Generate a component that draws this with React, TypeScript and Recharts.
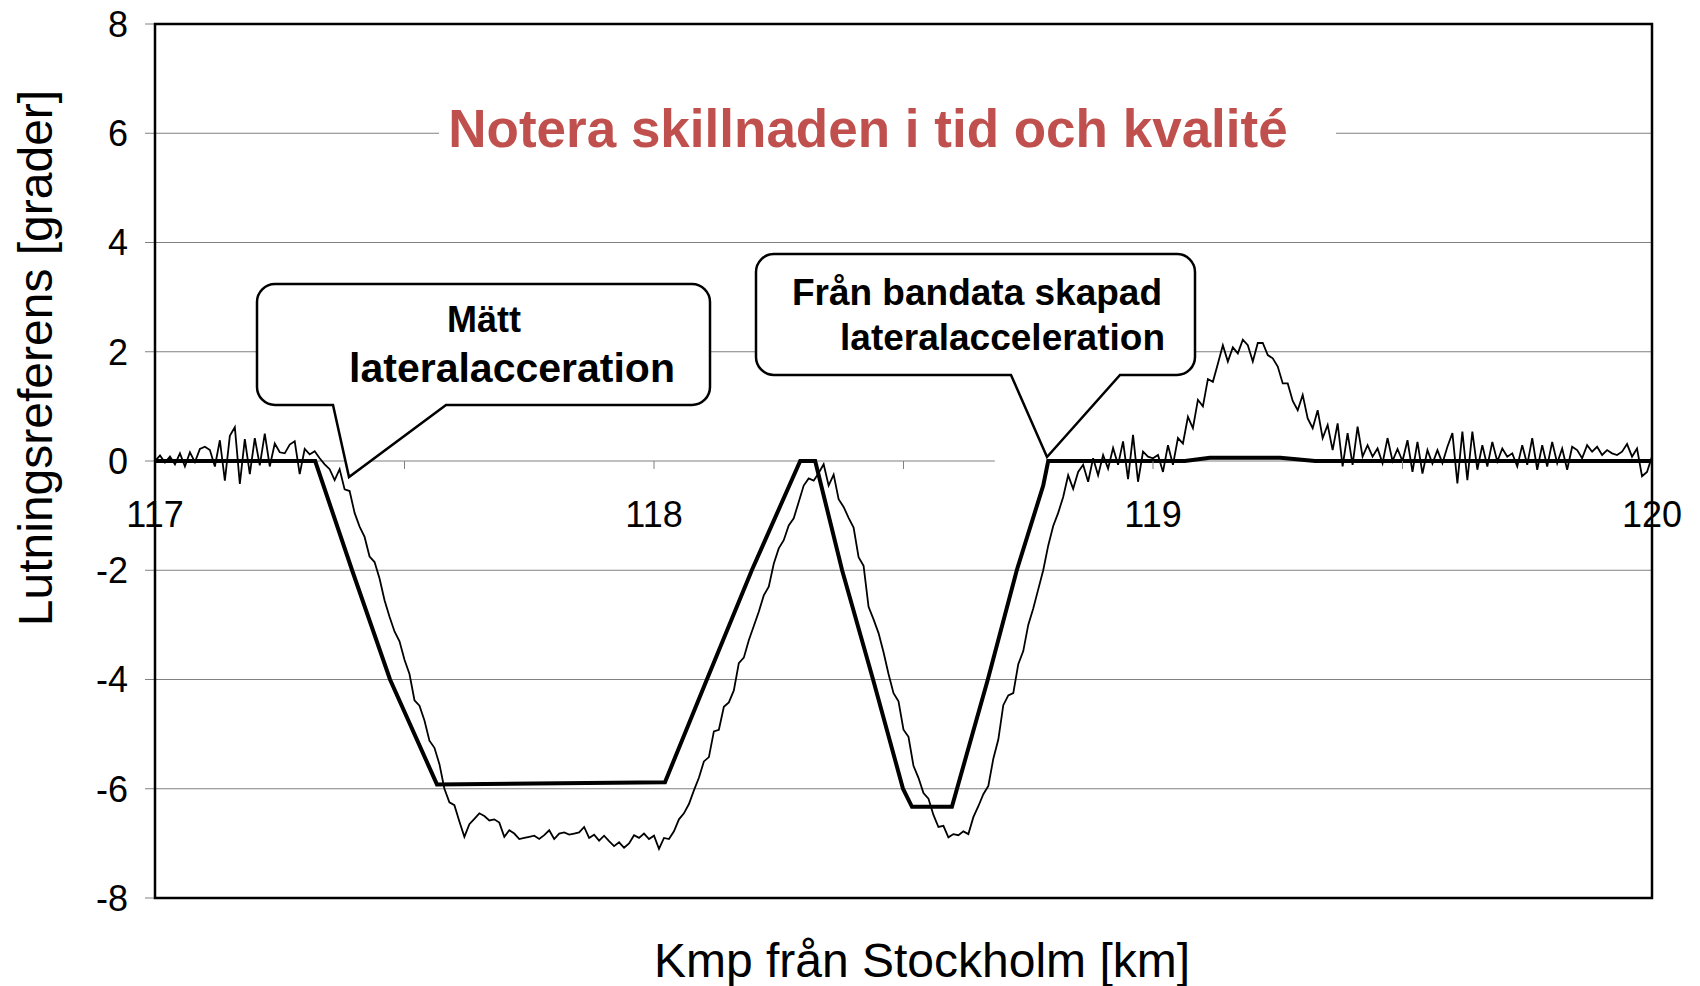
import React from "react";
import { LineChart, Line, XAxis, YAxis, CartesianGrid, ReferenceLine } from "recharts";

// measured lateral acceleration, one sample every 0.01 km from 117.00 to 120.00
const MEASURED_START_KM = 117;
const MEASURED_STEP_KM = 0.01;
const measuredValues = [
  0.0, 0.1, -0.03, 0.08, -0.06, 0.14, -0.1, 0.16, -0.02, 0.22,
  0.26, 0.2, -0.1, 0.38, -0.36, 0.46, 0.62, -0.42, 0.4, -0.24,
  0.42, -0.08, 0.5, -0.1, 0.32, 0.16, 0.14, 0.3, 0.36, -0.24,
  0.22, 0.12, 0.18, 0.05, -0.06, -0.15, -0.35, -0.15, -0.52, -0.55,
  -0.95, -1.2, -1.39, -1.75, -1.85, -2.15, -2.55, -2.85, -3.12, -3.3,
  -3.64, -3.9, -4.38, -4.48, -4.75, -5.12, -5.25, -5.55, -6.0, -6.25,
  -6.3, -6.6, -6.88, -6.65, -6.55, -6.45, -6.5, -6.58, -6.56, -6.62,
  -6.88, -6.76, -6.82, -6.92, -6.9, -6.88, -6.86, -6.92, -6.85, -6.76,
  -6.92, -6.82, -6.8, -6.84, -6.82, -6.8, -6.7, -6.9, -6.84, -6.95,
  -6.86, -6.96, -7.05, -6.98, -7.08, -7.0, -6.85, -6.9, -6.82, -6.92,
  -6.86, -7.1, -6.9, -6.92, -6.78, -6.56, -6.45, -6.28, -6.03, -5.8,
  -5.5, -5.42, -4.95, -4.92, -4.5, -4.42, -4.2, -3.7, -3.6, -3.28,
  -3.02, -2.76, -2.46, -2.3, -1.88, -1.6, -1.45, -1.18, -1.05, -0.75,
  -0.45, -0.32, -0.36, -0.22, -0.06, -0.45, -0.25, -0.7, -0.84, -1.04,
  -1.22, -1.76, -1.92, -2.67, -2.9, -3.15, -3.5, -3.9, -4.25, -4.4,
  -4.92, -5.05, -5.58, -5.8, -6.08, -6.18, -6.48, -6.7, -6.68, -6.89,
  -6.83, -6.85, -6.78, -6.83, -6.52, -6.32, -6.1, -5.95, -5.45, -5.1,
  -4.47, -4.29, -4.25, -3.72, -3.48, -3.0, -2.7, -2.35, -2.0, -1.55,
  -1.19, -0.95, -0.66, -0.26, -0.51, -0.2, -0.07, -0.38, 0.05, -0.26,
  0.11, -0.14, 0.24, -0.07, 0.36, -0.33, 0.48, -0.38, 0.17, 0.08,
  0.05, 0.11, -0.2, 0.29, -0.07, 0.42, 0.32, 0.81, 0.6, 1.12,
  1.0, 1.5, 1.45, 1.78, 2.12, 1.82, 2.08, 1.97, 2.22, 2.12,
  1.82, 2.16, 2.16, 1.94, 1.88, 1.73, 1.42, 1.42, 1.1, 0.93,
  1.21, 0.78, 0.6, 0.93, 0.42, 0.66, 0.2, 0.69, -0.1, 0.51,
  -0.07, 0.63, 0.08, 0.29, 0.08, 0.23, -0.04, 0.42, 0.0, 0.22,
  0.0, 0.38, -0.2, 0.35, -0.23, 0.2, -0.05, 0.2, -0.04, 0.26,
  0.51, -0.41, 0.54, -0.35, 0.54, -0.16, 0.29, -0.1, 0.35, -0.01,
  0.23, 0.08, 0.14, -0.1, 0.29, -0.07, 0.42, -0.16, 0.29, -0.1,
  0.35, -0.04, 0.23, -0.16, 0.26, 0.2, 0.05, 0.29, 0.17, 0.26,
  0.11, 0.2, 0.14, 0.11, 0.17, 0.31, 0.08, 0.23, -0.28, -0.2,
  0.08,
];

// lateral acceleration created from track data (breakpoints)
const createdKm = [
  117.0, 117.321, 117.395, 117.471, 117.565, 118.022, 118.106, 118.196,
  118.293, 118.323, 118.377, 118.439, 118.499, 118.517, 118.597, 118.669,
  118.727, 118.78, 118.79, 119.064, 119.114, 119.255, 119.325, 120.0,
];
const createdValues = [
  0, 0, -2, -4, -5.92, -5.88, -4, -2,
  0, 0, -2, -4, -6, -6.33, -6.33, -4,
  -2, -0.45, 0, 0, 0.06, 0.06, 0, 0,
];

const yTicks = [-8, -6, -4, -2, 0, 2, 4, 6, 8];
const gridValues = [-8, -6, -4, -2, 2, 4, 6, 8];
const kmTicks = [117, 117.5, 118, 118.5, 119, 119.5, 120];
const kmLabels: Record<number, string> = { 117: "117", 118: "118", 119: "119", 120: "120" };
const zeroAxisSegments = [
  [117, 118.683],
  [118.79, 120],
];

const measuredData = measuredValues.map((v, i) => ({
  km: +(MEASURED_START_KM + i * MEASURED_STEP_KM).toFixed(2),
  v,
}));
const createdData = createdKm.map((km, i) => ({ km, v: createdValues[i] }));

const W = 1700;
const H = 986;
const PLOT_LEFT = 155;
const PLOT_TOP = 24;
const PLOT_RIGHT = 1652;
const PLOT_BOTTOM = 898;
const Y_MIN = -8;
const Y_MAX = 8;
const ZERO_Y = PLOT_TOP + ((PLOT_BOTTOM - PLOT_TOP) * Y_MAX) / (Y_MAX - Y_MIN);
const YAXIS_W = 80;
const FONT = "Arial, 'Liberation Sans', Helvetica, sans-serif";
const GRID = "#808080";

function KmTick({ x, payload }: any) {
  const label = kmLabels[payload.value];
  return (
    <g>
      <line x1={x} x2={x} y1={ZERO_Y} y2={ZERO_Y + 8} stroke={GRID} strokeWidth={1} />
      {label && (
        <text x={x} y={ZERO_Y + 66} textAnchor="middle" fontSize={36} fontFamily={FONT} fill="#000">
          {label}
        </text>
      )}
    </g>
  );
}

// rounded box with a pointer on its bottom edge
function calloutPath(l: number, t: number, r: number, b: number, rad: number, p1: number, p2: number, tx: number, ty: number) {
  return [
    `M${l + rad},${t}`,
    `H${r - rad}`,
    `A${rad},${rad} 0 0 1 ${r},${t + rad}`,
    `V${b - rad}`,
    `A${rad},${rad} 0 0 1 ${r - rad},${b}`,
    `H${p2}`,
    `L${tx},${ty}`,
    `L${p1},${b}`,
    `H${l + rad}`,
    `A${rad},${rad} 0 0 1 ${l},${b - rad}`,
    `V${t + rad}`,
    `A${rad},${rad} 0 0 1 ${l + rad},${t}`,
    "Z",
  ].join(" ");
}

function Overlay() {
  return (
    <svg
      width={W}
      height={H}
      style={{ position: "absolute", left: 0, top: 0, pointerEvents: "none" }}
      fontFamily={FONT}
    >
      <rect
        x={PLOT_LEFT}
        y={PLOT_TOP}
        width={PLOT_RIGHT - PLOT_LEFT}
        height={PLOT_BOTTOM - PLOT_TOP}
        fill="none"
        stroke="#000"
        strokeWidth={2.5}
      />

      {/* title with white backing over the gridline */}
      <rect x={439} y={100} width={897} height={60} fill="#fff" />
      <text x={868} y={147} textAnchor="middle" fontSize={53} fontWeight="bold" fill="#C0504D">
        Notera skillnaden i tid och kvalité
      </text>

      <path d={calloutPath(257, 284, 710, 405, 18, 333, 446, 349, 477)} fill="#fff" stroke="#000" strokeWidth={2.5} />
      <text x={484} y={332} textAnchor="middle" fontSize={36} fontWeight="bold" fill="#000">
        Mätt
      </text>
      <text x={512} y={382} textAnchor="middle" fontSize={41} fontWeight="bold" fill="#000">
        lateralacceration
      </text>

      <path d={calloutPath(756, 254, 1195, 375, 18, 1011, 1120, 1047, 457)} fill="#fff" stroke="#000" strokeWidth={2.5} />
      <text x={1162} y={305} textAnchor="end" fontSize={37} fontWeight="bold" fill="#000">
        Från bandata skapad
      </text>
      <text x={1165} y={350} textAnchor="end" fontSize={37} fontWeight="bold" fill="#000">
        lateralacceleration
      </text>

      <text x={922} y={977} textAnchor="middle" fontSize={48} fill="#000">
        Kmp från Stockholm [km]
      </text>
      <text x={52} y={358} textAnchor="middle" fontSize={48} fill="#000" transform="rotate(-90 52 358)">
        Lutningsreferens [grader]
      </text>
    </svg>
  );
}

export default function App() {
  return (
    <div style={{ position: "absolute", left: 0, top: 0, width: W, height: H, background: "#fff" }}>
      <LineChart
        width={W}
        height={H}
        margin={{ top: PLOT_TOP, right: W - PLOT_RIGHT, bottom: 0, left: PLOT_LEFT - YAXIS_W }}
      >
        <CartesianGrid horizontal vertical={false} horizontalValues={gridValues} stroke={GRID} strokeWidth={1} />
        <XAxis
          type="number"
          dataKey="km"
          domain={[117, 120]}
          ticks={kmTicks}
          interval={0}
          allowDataOverflow
          axisLine={false}
          tickLine={false}
          height={H - PLOT_BOTTOM}
          tick={<KmTick />}
        />
        <YAxis
          type="number"
          domain={[Y_MIN, Y_MAX]}
          ticks={yTicks}
          interval={0}
          width={YAXIS_W}
          axisLine={false}
          tickLine={{ stroke: GRID }}
          tickSize={10}
          tickMargin={17}
          tick={{ fontSize: 36, fill: "#000", fontFamily: FONT }}
        />
        {zeroAxisSegments.map(([a, b]) => (
          <ReferenceLine
            key={a}
            segment={[
              { x: a, y: 0 },
              { x: b, y: 0 },
            ]}
            stroke={GRID}
            strokeWidth={1}
          />
        ))}
        <Line
          data={measuredData}
          dataKey="v"
          type="linear"
          stroke="#000"
          strokeWidth={1.8}
          dot={false}
          isAnimationActive={false}
        />
        <Line
          data={createdData}
          dataKey="v"
          type="linear"
          stroke="#000"
          strokeWidth={4}
          dot={false}
          isAnimationActive={false}
        />
      </LineChart>
      <Overlay />
    </div>
  );
}
